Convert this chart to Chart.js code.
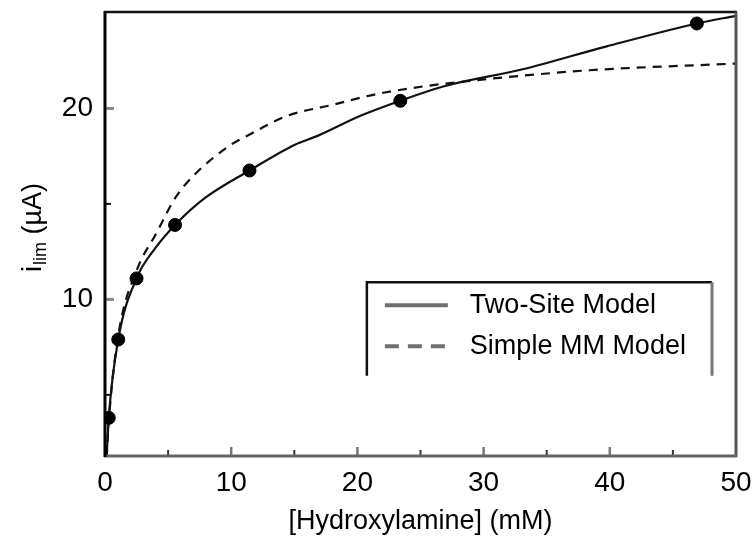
<!DOCTYPE html>
<html>
<head>
<meta charset="utf-8">
<script src="https://cdn.jsdelivr.net/npm/chart.js@4.4.1/dist/chart.umd.min.js"></script>
<style>
    html, body { margin: 0; padding: 0; background: #fff; }
    #wrap { width: 756px; height: 538px; position: relative; }
</style>
</head>
<body>
<div id="wrap"><canvas id="chart"></canvas></div>
<script>
// Measured points (concentration in mM, current in µA)
const concentration = [0.3, 1.05, 2.5, 5.55, 11.45, 23.4, 46.9];
const current = [3.8, 7.9, 11.1, 13.9, 16.75, 20.4, 24.45];

// Two-Site Model curve
const twoSiteX = [0, 0.3, 1.05, 2.5, 4.0, 5.55, 7.9, 11.45, 15.05, 16.8, 20.2, 23.4, 26.8, 33.1, 39.75, 46.9, 50];
const twoSiteY = [0, 3.8, 7.9, 11.1, 12.7, 13.9, 15.3, 16.75, 18.1, 18.55, 19.6, 20.4, 21.15, 22.05, 23.25, 24.45, 24.85];

// Simple MM Model curve
const simpleMmX = [0, 0.3, 1.05, 2.5, 4.1, 5.55, 6.9, 9.75, 11.5, 14.4, 18.1, 21.5, 25.2, 29.7, 38.4, 50];
const simpleMmY = [0, 3.6, 8.1, 11.5, 13.5, 15.3, 16.4, 18.0, 18.65, 19.6, 20.2, 20.75, 21.15, 21.5, 22.0, 22.35];

const xTicks = [0, 10, 20, 30, 40, 50];
const xMinorTicks = [5, 15, 25, 35, 45];
const yTicks = [10, 20];
const yMinorTicks = [5, 15];

const FONT = "'Liberation Sans', Arial, sans-serif";

const toPoints = (xs, ys) => xs.map((x, i) => ({ x: x, y: ys[i] }));

// Inward tick marks + frame, like the original plot
const framePlugin = {
    id: 'frame',
    afterDatasetsDraw(chart) {
        const { ctx, chartArea: a, scales } = chart;
        const x = scales.x, y = scales.y;
        ctx.save();

        const tick = (x1, y1, x2, y2, color, w) => {
            ctx.strokeStyle = color;
            ctx.lineWidth = w;
            ctx.beginPath();
            ctx.moveTo(x1, y1);
            ctx.lineTo(x2, y2);
            ctx.stroke();
        };

        xTicks.forEach(v => {
            if (v === x.min || v === x.max) return;
            const px = x.getPixelForValue(v);
            tick(px, a.bottom, px, a.bottom - 9, '#777', 2.5);
        });
        xMinorTicks.forEach(v => {
            const px = x.getPixelForValue(v);
            tick(px, a.bottom, px, a.bottom - 6, '#333', 2);
        });
        yTicks.forEach(v => {
            const py = y.getPixelForValue(v);
            tick(a.left, py, a.left + 9, py, '#888', 3);
        });
        yMinorTicks.forEach(v => {
            const py = y.getPixelForValue(v);
            tick(a.left, py, a.left + 6, py, '#111', 2);
        });

        // frame
        tick(a.left - 1, a.top, a.right + 1, a.top, '#111', 2.5);
        tick(a.right, a.top, a.right, a.bottom + 1, '#555', 3);
        tick(a.left - 1, a.bottom, a.right + 1, a.bottom, '#666', 3);
        tick(a.left, a.top - 1, a.left, a.bottom + 1, '#000', 3);

        ctx.restore();
    }
};

// Y title with subscript: i_lim (µA)
const yTitlePlugin = {
    id: 'yTitle',
    afterDraw(chart) {
        const { ctx, chartArea: a } = chart;
        ctx.save();
        ctx.translate(31, 228);
        ctx.rotate(-Math.PI / 2);
        ctx.fillStyle = '#000';
        ctx.textBaseline = 'alphabetic';
        ctx.font = '27px ' + FONT;
        const w1 = ctx.measureText('i').width;
        ctx.font = '18px ' + FONT;
        const w2 = ctx.measureText('lim').width;
        ctx.font = '27px ' + FONT;
        const w3 = ctx.measureText(' (µA)').width;
        let cx = -(w1 + w2 + w3) / 2;
        ctx.fillText('i', cx, 10);
        cx += w1 + 1;
        ctx.font = '18px ' + FONT;
        ctx.fillText('lim', cx, 15);
        cx += w2;
        ctx.font = '27px ' + FONT;
        ctx.fillText(' (µA)', cx, 10);
        ctx.restore();
    }
};

// Legend box inside the plot (no bottom edge, as in the original)
const legendPlugin = {
    id: 'boxLegend',
    afterDraw(chart) {
        const { ctx, scales } = chart;
        const left = scales.x.getPixelForValue(20.75);
        const right = scales.x.getPixelForValue(48.1);
        const top = scales.y.getPixelForValue(10.9);
        const bottom = scales.y.getPixelForValue(6.0);
        ctx.save();
        ctx.lineWidth = 2.5;
        ctx.strokeStyle = '#111';
        ctx.beginPath();
        ctx.moveTo(left, bottom);
        ctx.lineTo(left, top);
        ctx.lineTo(right, top);
        ctx.stroke();
        ctx.strokeStyle = '#777';
        ctx.lineWidth = 3;
        ctx.beginPath();
        ctx.moveTo(right, top);
        ctx.lineTo(right, bottom);
        ctx.stroke();

        const entries = chart.data.datasets.filter(d => d.showLine);
        entries.forEach((ds, i) => {
            const yy = top + 23 + i * 41;
            ctx.strokeStyle = '#707070';
            ctx.lineWidth = 4;
            ctx.setLineDash(ds.borderDash ? [14, 9] : []);
            ctx.beginPath();
            ctx.moveTo(left + 18, yy);
            ctx.lineTo(left + 81, yy);
            ctx.stroke();
            ctx.setLineDash([]);
            ctx.fillStyle = '#000';
            ctx.font = '27px ' + FONT;
            ctx.textBaseline = 'middle';
            ctx.fillText(ds.label, left + 103, yy);
        });
        ctx.restore();
    }
};

new Chart(document.getElementById('chart'), {
    type: 'scatter',
    data: {
        datasets: [
            {
                label: 'Data',
                data: toPoints(concentration, current),
                pointRadius: 6.5,
                pointBackgroundColor: '#000',
                pointBorderColor: '#000',
                showLine: false
            },
            {
                label: 'Two-Site Model',
                data: toPoints(twoSiteX, twoSiteY),
                showLine: true,
                borderColor: '#111',
                borderWidth: 2.2,
                pointRadius: 0,
                cubicInterpolationMode: 'monotone'
            },
            {
                label: 'Simple MM Model',
                data: toPoints(simpleMmX, simpleMmY),
                showLine: true,
                borderColor: '#111',
                borderWidth: 2.2,
                borderDash: [9, 7],
                pointRadius: 0,
                cubicInterpolationMode: 'monotone'
            }
        ]
    },
    options: {
        responsive: true,
        maintainAspectRatio: false,
        animation: false,
        layout: { padding: { left: 0, right: 20, top: 12, bottom: 0 } },
        plugins: {
            legend: { display: false },
            tooltip: { enabled: false }
        },
        scales: {
            x: {
                type: 'linear',
                min: 0,
                max: 50,
                afterBuildTicks: s => { s.ticks = xTicks.map(v => ({ value: v })); },
                afterFit: s => { s.height = 82; s.paddingLeft = 0; s.paddingRight = 0; },
                grid: { display: false, drawTicks: false },
                border: { display: false },
                ticks: {
                    color: '#000',
                    font: { family: FONT, size: 28 },
                    padding: 10,
                    maxRotation: 0
                },
                title: {
                    display: true,
                    text: '[Hydroxylamine] (mM)',
                    color: '#000',
                    font: { family: FONT, size: 27 },
                    padding: { top: 0, bottom: 0 }
                }
            },
            y: {
                type: 'linear',
                min: 1.8,
                max: 25.05,
                afterBuildTicks: s => { s.ticks = yTicks.map(v => ({ value: v })); },
                afterFit: s => { s.width = 105; s.paddingTop = 0; s.paddingBottom = 0; },
                grid: { display: false, drawTicks: false },
                border: { display: false },
                ticks: {
                    color: '#000',
                    font: { family: FONT, size: 28 },
                    padding: 12
                }
            }
        }
    },
    plugins: [framePlugin, yTitlePlugin, legendPlugin]
});
</script>
</body>
</html>
